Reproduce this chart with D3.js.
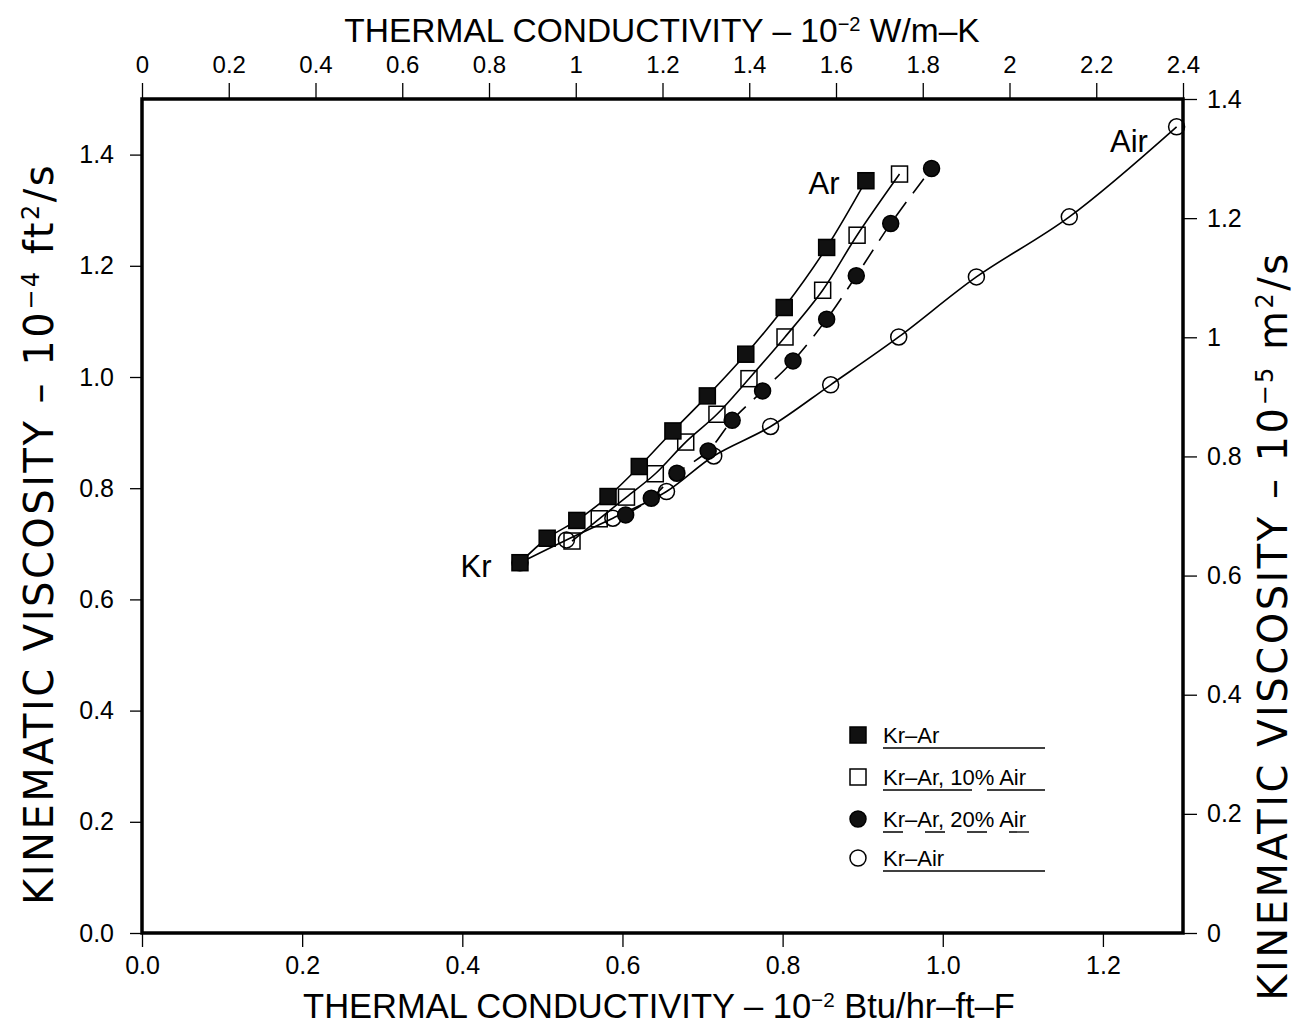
<!DOCTYPE html>
<html>
<head>
<meta charset="utf-8">
<script src="https://cdn.jsdelivr.net/npm/d3@7"></script>
<style>
  body { margin: 0; background: #fff; }
  text { font-family: "Liberation Sans", Arial, sans-serif; fill: #000; }
</style>
</head>
<body>
<div id="chart"></div>
<script>
// data: [thermal conductivity 10^-2 Btu/hr-ft-F, kinematic viscosity 10^-4 ft2/s]
const krAr = [[0.472,0.666],[0.506,0.710],[0.543,0.742],[0.582,0.785],[0.621,0.839],[0.663,0.903],
              [0.706,0.966],[0.754,1.041],[0.802,1.125],[0.855,1.233],[0.904,1.353]];
const krAr10 = [[0.537,0.705],[0.571,0.745],[0.605,0.784],[0.641,0.826],[0.679,0.883],[0.718,0.933],
                [0.758,0.997],[0.803,1.072],[0.850,1.156],[0.893,1.255],[0.946,1.365]];
const krAr20 = [[0.604,0.752],[0.636,0.782],[0.668,0.827],[0.707,0.867],[0.737,0.922],[0.775,0.975],
                [0.813,1.029],[0.855,1.104],[0.892,1.182],[0.935,1.276],[0.986,1.375]];
const krAir = [[0.472,0.666],[0.530,0.707],[0.588,0.746],[0.655,0.794],[0.714,0.858],[0.785,0.911],
               [0.860,0.986],[0.945,1.072],[1.042,1.180],[1.158,1.288],[1.292,1.450]];

const seriesNames = ["Kr\u2013Ar", "Kr\u2013Ar, 10% Air", "Kr\u2013Ar, 20% Air", "Kr\u2013Air"];
const bottomTicks = [0, 0.2, 0.4, 0.6, 0.8, 1.0, 1.2];
const topTicks = [0, 0.2, 0.4, 0.6, 0.8, 1, 1.2, 1.4, 1.6, 1.8, 2, 2.2, 2.4];
const leftTicks = [0, 0.2, 0.4, 0.6, 0.8, 1.0, 1.2, 1.4];
const rightTicks = [0, 0.2, 0.4, 0.6, 0.8, 1, 1.2, 1.4];

const W = 1307, H = 1029;
const box = {left: 142, right: 1183, top: 99, bottom: 933};

const svg = d3.select("#chart").append("svg")
    .attr("width", W).attr("height", H);

// scales
const x = d3.scaleLinear().domain([0, 1.3]).range([box.left, box.right]);
const xTop = d3.scaleLinear().domain([0, 2.4]).range([box.left, box.right]);
const y = d3.scaleLinear().domain([0, 1.5]).range([box.bottom, box.top]);
const yRight = d3.scaleLinear().domain([0, 1.4]).range([box.bottom, box.top]);

const plain = d => String(+d.toFixed(1));

function styleAxis(g, size) {
    g.select(".domain").remove();
    g.selectAll(".tick line").attr("stroke", "#000").attr("stroke-width", 1.3);
    g.selectAll(".tick text").style("font-size", size + "px").attr("fill", "#000");
}

svg.append("g").attr("transform", `translate(0,${box.bottom})`)
    .call(d3.axisBottom(x).tickValues(bottomTicks).tickFormat(d3.format(".1f")).tickSize(14).tickPadding(9))
    .call(g => styleAxis(g, 25));
svg.append("g").attr("transform", `translate(0,${box.top})`)
    .call(d3.axisTop(xTop).tickValues(topTicks).tickFormat(plain).tickSize(16).tickPadding(10))
    .call(g => styleAxis(g, 24));
svg.append("g").attr("transform", `translate(${box.left},0)`)
    .call(d3.axisLeft(y).tickValues(leftTicks).tickFormat(d3.format(".1f")).tickSize(12).tickPadding(16))
    .call(g => styleAxis(g, 25));
svg.append("g").attr("transform", `translate(${box.right},0)`)
    .call(d3.axisRight(yRight).tickValues(rightTicks).tickFormat(plain).tickSize(14).tickPadding(10))
    .call(g => styleAxis(g, 25));

// frame
svg.append("rect")
    .attr("x", box.left).attr("y", box.top)
    .attr("width", box.right - box.left).attr("height", box.bottom - box.top)
    .attr("fill", "none").attr("stroke", "#000").attr("stroke-width", 3.5);

// axis titles
function title(tx, ty, rot, parts, size, family, spacing) {
    const t = svg.append("text")
        .attr("transform", `translate(${tx},${ty}) rotate(${rot})`)
        .attr("text-anchor", "middle")
        .style("font-size", size + "px");
    if (family) t.style("font-family", family);
    if (spacing) t.style("letter-spacing", spacing + "px");
    parts.forEach(p => {
        const s = t.append("tspan").text(p[0]);
        if (p[1]) s.attr("baseline-shift", "super").style("font-size", (size * 0.6) + "px");
    });
}
title(662, 42, 0, [["THERMAL CONDUCTIVITY \u2013 10"], ["\u22122", 1], [" W/m\u2013K"]], 33.5);
title(659, 1018, 0, [["THERMAL CONDUCTIVITY \u2013 10"], ["\u22122", 1], [" Btu/hr\u2013ft\u2013F"]], 34.5);
title(53, 534, -90, [["KINEMATIC VISCOSITY \u2013 10"], ["\u22124", 1], [" ft"], ["2", 1], ["/s"]], 40, '"DejaVu Sans", sans-serif', 2.5);
title(1287, 626, -90, [["KINEMATIC VISCOSITY \u2013 10"], ["\u22125", 1], [" m"], ["2", 1], ["/s"]], 40, '"DejaVu Sans", sans-serif', 2.5);

// lines
const line = d3.line().x(d => x(d[0])).y(d => y(d[1])).curve(d3.curveCatmullRom.alpha(0.5));
const series = [
    {data: krAir, marker: "circle", fill: "none", dash: null},
    {data: krAr20, marker: "circle", fill: "#111", dash: "18,11"},
    {data: krAr10, marker: "square", fill: "none", dash: null},
    {data: krAr, marker: "square", fill: "#111", dash: null}
];

series.forEach(s => {
    svg.append("path")
        .datum(s.data)
        .attr("d", line)
        .attr("fill", "none")
        .attr("stroke", "#000")
        .attr("stroke-width", 1.6)
        .attr("stroke-dasharray", s.dash);
});

function drawMarker(g, kind, fill, cx, cy) {
    if (kind === "square") {
        g.append("rect")
            .attr("x", cx - 8).attr("y", cy - 8).attr("width", 16).attr("height", 16)
            .attr("fill", fill).attr("stroke", "#000").attr("stroke-width", 1.5);
    } else {
        g.append("circle")
            .attr("cx", cx).attr("cy", cy).attr("r", 8)
            .attr("fill", fill).attr("stroke", "#000").attr("stroke-width", 1.5);
    }
}

series.forEach(s => {
    const g = svg.append("g");
    s.data.forEach(d => drawMarker(g, s.marker, s.fill, x(d[0]), y(d[1])));
});

// point labels
svg.append("text").attr("x", 476).attr("y", 577).attr("text-anchor", "middle").style("font-size", "31px").text("Kr");
svg.append("text").attr("x", 824).attr("y", 194).attr("text-anchor", "middle").style("font-size", "31px").text("Ar");
svg.append("text").attr("x", 1129).attr("y", 152).attr("text-anchor", "middle").style("font-size", "31px").text("Air");

// legend
const legendMarkers = [
    {marker: "square", fill: "#111", dash: null},
    {marker: "square", fill: "none", dash: "89,15"},
    {marker: "circle", fill: "#111", dash: "20,22"},
    {marker: "circle", fill: "none", dash: null}
];
const legendRows = [735, 777, 819, 858];
const lg = svg.append("g");
seriesNames.forEach((name, i) => {
    const cy = legendRows[i];
    drawMarker(lg, legendMarkers[i].marker, legendMarkers[i].fill, 858, cy);
    lg.append("text").attr("x", 883).attr("y", cy + 8).style("font-size", "22px").text(name);
    lg.append("line")
        .attr("x1", 883).attr("x2", 1045).attr("y1", cy + 13).attr("y2", cy + 13)
        .attr("stroke", "#000").attr("stroke-width", 1.3)
        .attr("stroke-dasharray", legendMarkers[i].dash);
});
</script>
</body>
</html>
